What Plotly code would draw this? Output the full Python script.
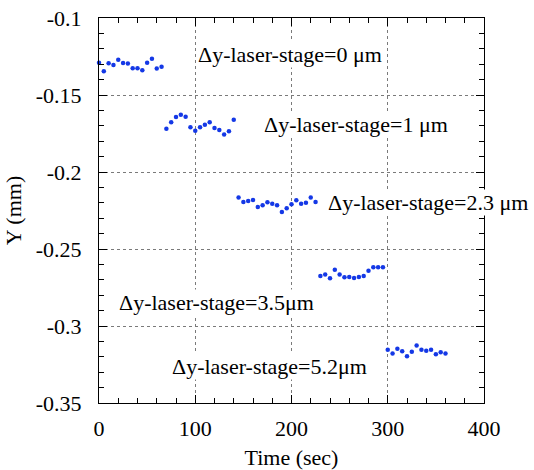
import plotly.graph_objects as go

# Data (Time in sec, Y in mm)
t0 = [0, 5, 10, 15, 20, 25, 30, 35, 40, 45, 50, 55, 60, 65]
y0 = [-0.1291, -0.1346, -0.1294, -0.1305, -0.1271, -0.1292, -0.1296, -0.1326, -0.1326, -0.1339, -0.1290, -0.1265, -0.1328, -0.1316]

t1 = [70, 75, 80, 85, 90, 95, 100, 105, 110, 115, 120, 125, 130, 135, 140]
y1 = [-0.1719, -0.1677, -0.1643, -0.1628, -0.1641, -0.1710, -0.1732, -0.1710, -0.1693, -0.1677, -0.1714, -0.1727, -0.1756, -0.1736, -0.1660]

t2 = [145, 150, 155, 160, 165, 170, 175, 180, 185, 190, 195, 200, 205, 210, 215, 220, 225]
y2 = [-0.2165, -0.2195, -0.2188, -0.2182, -0.2227, -0.2216, -0.2197, -0.2206, -0.2216, -0.2260, -0.2236, -0.2210, -0.2184, -0.2206, -0.2199, -0.2165, -0.2195]

t3 = [230, 235, 240, 245, 250, 255, 260, 265, 270, 275, 280, 285, 290, 295]
y3 = [-0.2675, -0.2665, -0.2690, -0.2634, -0.2665, -0.2684, -0.2682, -0.2688, -0.2682, -0.2675, -0.2641, -0.2619, -0.2619, -0.2619]

t4 = [300, 305, 310, 315, 320, 325, 330, 335, 340, 345, 350, 355, 360]
y4 = [-0.3154, -0.3178, -0.3147, -0.3164, -0.3197, -0.3167, -0.3126, -0.3154, -0.3160, -0.3154, -0.3183, -0.3171, -0.3178]

labels = ["Δy-laser-stage=0 μm", "Δy-laser-stage=1 μm", "Δy-laser-stage=2.3 μm",
          "Δy-laser-stage=3.5μm", "Δy-laser-stage=5.2μm"]
label_x = [101.5, 170.6, 236.9, 20.1, 75]
label_y = [-0.1238, -0.1693, -0.2195, -0.2850, -0.3262]

x_ticks = [0, 100, 200, 300, 400]
x_ticktext = ["0", "100", "200", "300", "400"]
y_ticks = [-0.1, -0.15, -0.2, -0.25, -0.3, -0.35]
y_ticktext = ["-0.1", "-0.15", "-0.2", "-0.25", "-0.3", "-0.35"]

FONT = "Liberation Serif, Times New Roman, serif"
BLUE = "#1438e6"
FS = 22

fig = go.Figure()
for tx, ty in [(t0, y0), (t1, y1), (t2, y2), (t3, y3), (t4, y4)]:
    fig.add_trace(go.Scatter(x=tx, y=ty, mode="markers",
                             marker=dict(size=4.5, color=BLUE, line=dict(width=0)),
                             showlegend=False, cliponaxis=False))

for txt, lx, ly in zip(labels, label_x, label_y):
    fig.add_annotation(x=lx, y=ly, text=txt, showarrow=False, xanchor="left",
                       yanchor="middle", bgcolor="white", borderpad=0,
                       font=dict(family=FONT, size=FS, color="black"))

axis_common = dict(
    showline=True, linecolor="black", linewidth=1, mirror="allticks",
    ticks="inside", ticklen=8, tickcolor="black", tickwidth=1,
    showgrid=True, gridcolor="#7a7a7a", griddash="3px,3px", gridwidth=1,
    zeroline=False, automargin=False,
    tickfont=dict(family=FONT, size=FS, color="black"),
)

fig.update_xaxes(**axis_common, range=[0, 400], tickvals=x_ticks, ticktext=x_ticktext,
                 minor=dict(ticks="inside", ticklen=5, dtick=20, tickcolor="black", showgrid=False),
                 title=dict(text="Time (sec)", font=dict(family=FONT, size=FS, color="black"), standoff=10),
                 ticklabelstandoff=6)
fig.update_yaxes(**axis_common, range=[-0.35, -0.1], tickvals=y_ticks, ticktext=y_ticktext,
                 minor=dict(ticks="inside", ticklen=5, dtick=0.01, tick0=-0.35, tickcolor="black", showgrid=False),
                 title=dict(text="Y (mm)", font=dict(family=FONT, size=FS, color="black"), standoff=8),
                 ticklabelstandoff=12)

fig.update_layout(
    width=534, height=470,
    margin=dict(l=99, r=50, t=18, b=67),
    paper_bgcolor="white", plot_bgcolor="white",
)

fig.write_html("out.html")
